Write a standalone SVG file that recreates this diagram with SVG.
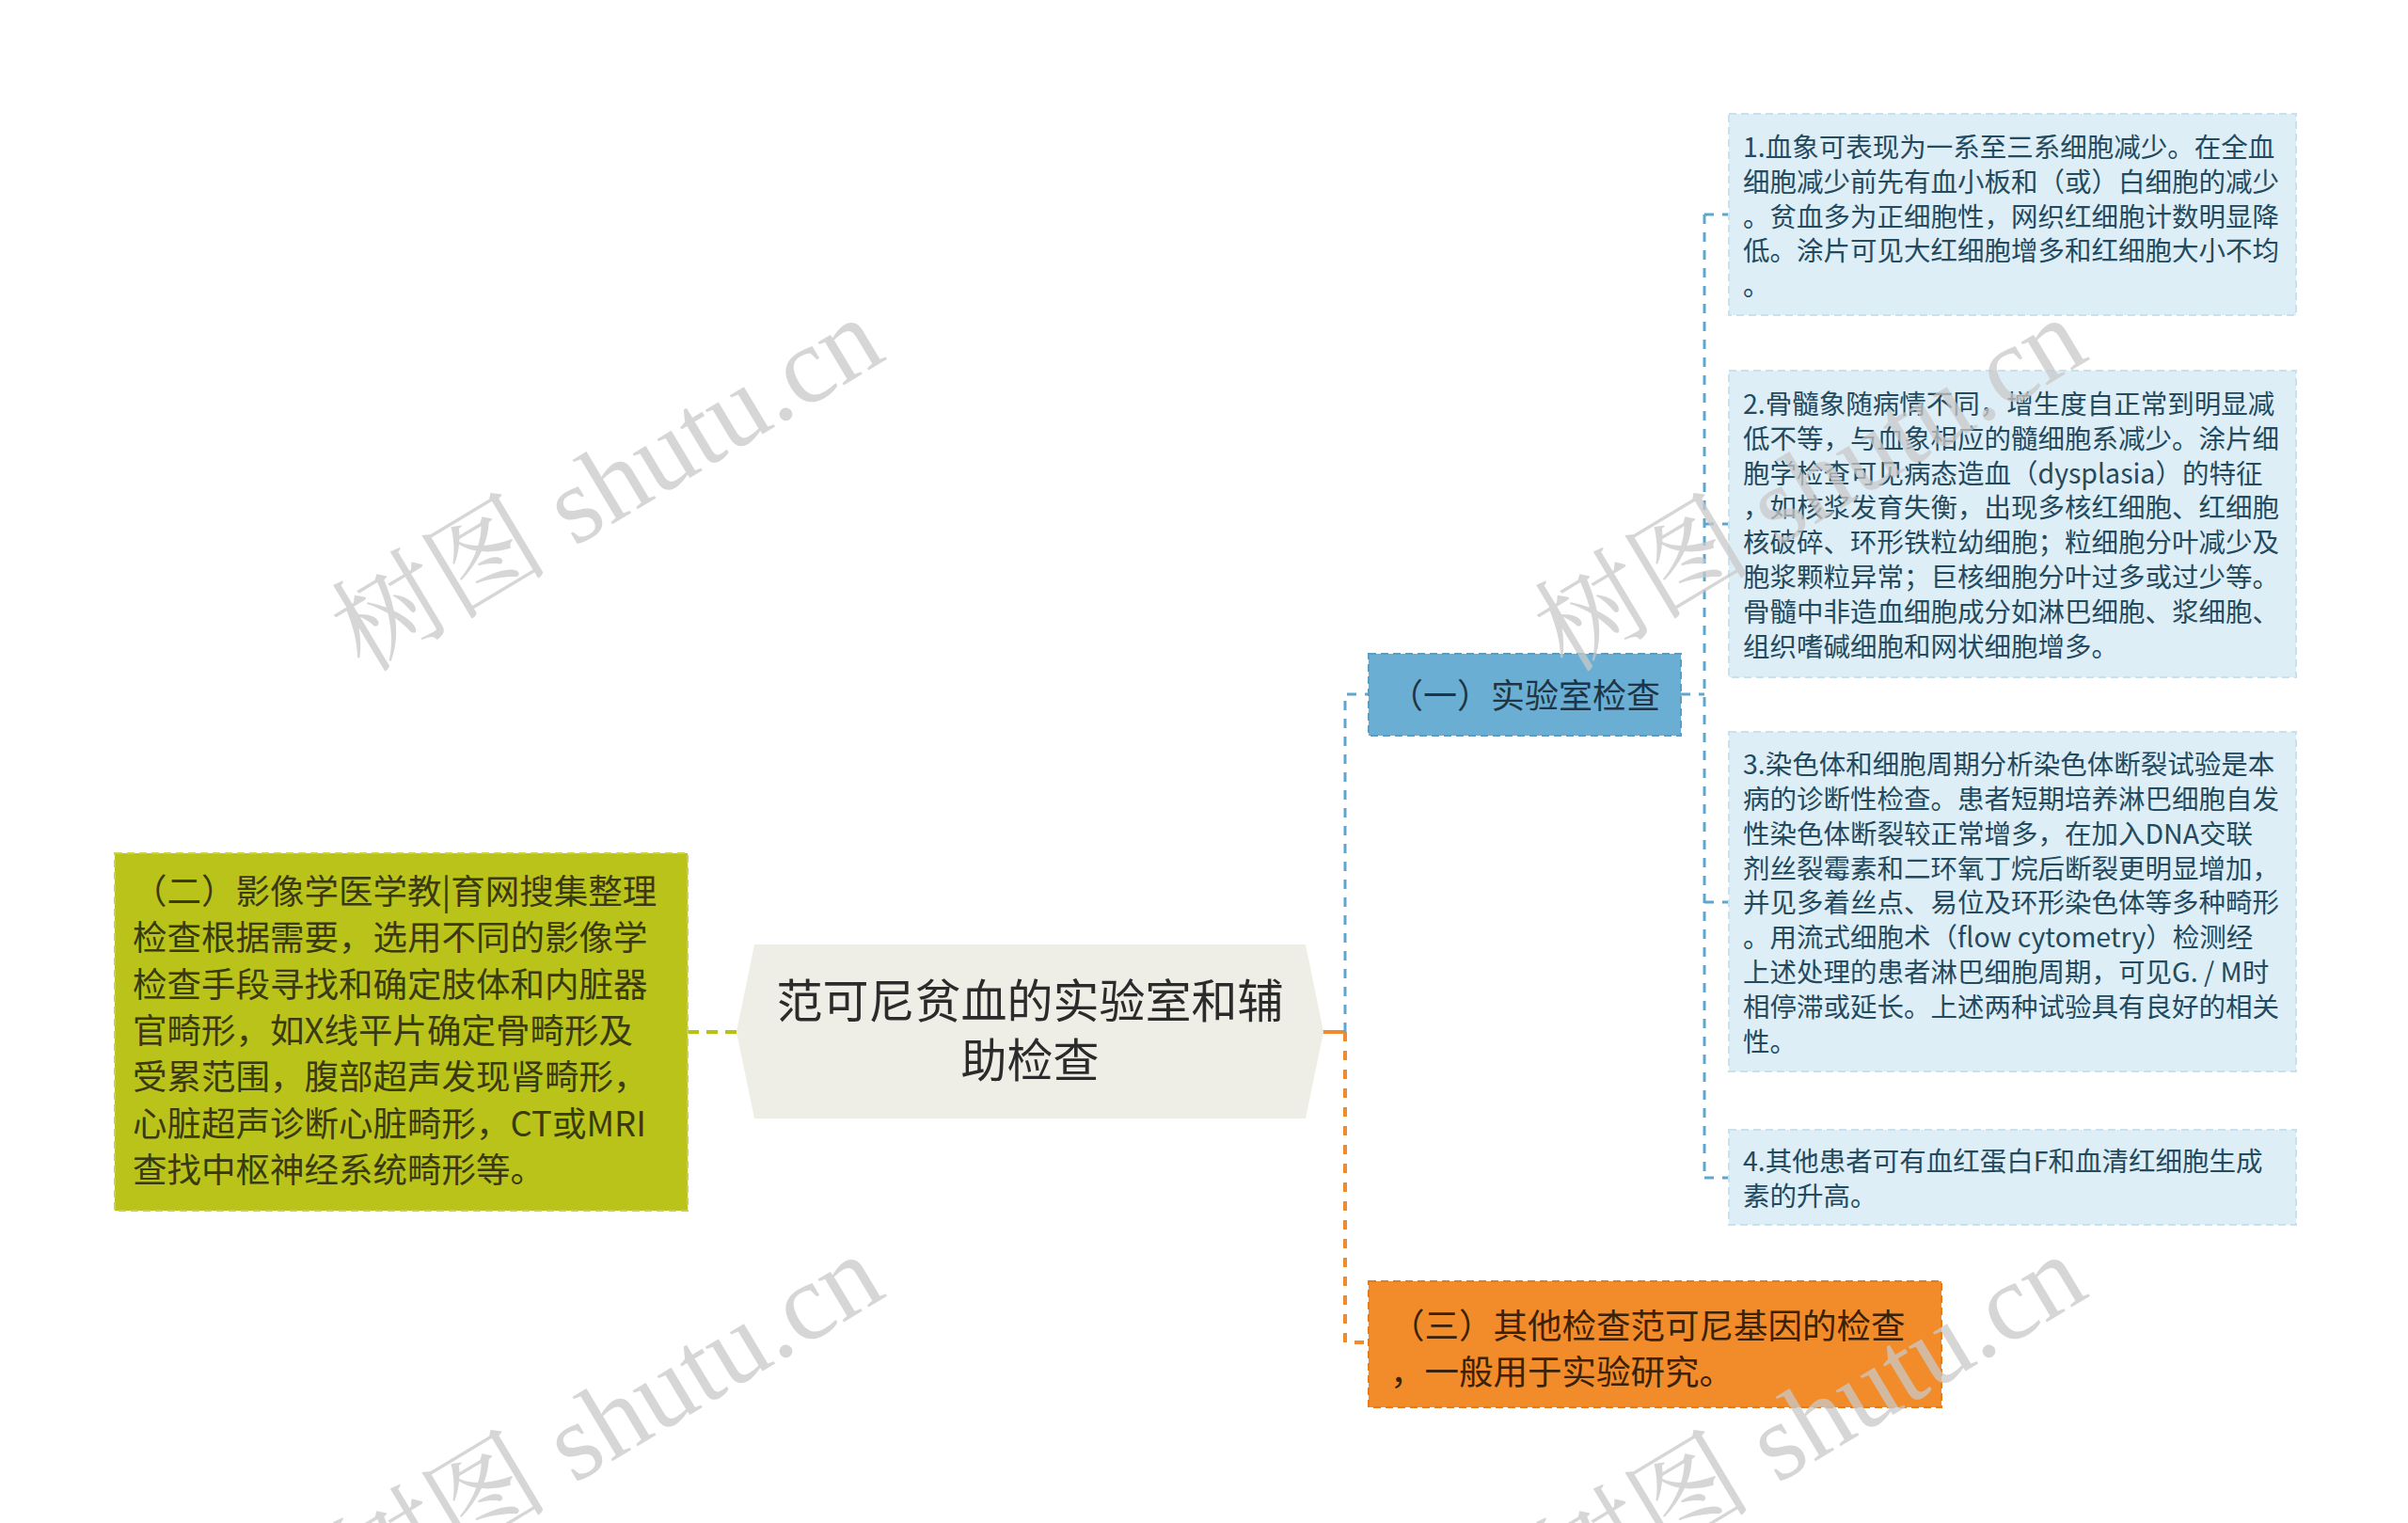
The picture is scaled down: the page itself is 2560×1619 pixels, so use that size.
<svg xmlns="http://www.w3.org/2000/svg" width="2560" height="1619" viewBox="0 0 2560 1619">
<style>
.t{font-family:"Noto Sans CJK SC","Noto Sans",sans-serif}
.item{fill:#deeef7;stroke:#c9e0ee;stroke-width:2;stroke-dasharray:8 5}
.itxt{font-size:28.5px;fill:#234a5e}
.wm{font-family:"Liberation Serif","Noto Serif CJK SC","Noto Sans CJK SC",serif;font-size:116px;fill:#c8c8c8;fill-opacity:0.75}
.cb{fill:none;stroke:#5fa6cf;stroke-width:3;stroke-dasharray:10 9}
</style>
<rect width="2560" height="1619" fill="#ffffff"/>
<g id="connectors">
<line x1="731" y1="1097" x2="784" y2="1097" stroke="#b8c216" stroke-width="4" stroke-dasharray="12 8"/>
<line x1="1404" y1="1097" x2="1431" y2="1097" stroke="#ef8a2f" stroke-width="4"/>
<path class="cb" d="M1430 1097 V738 H1455"/>
<path d="M1430 1097 V1427 H1455" fill="none" stroke="#ef8a2f" stroke-width="4" stroke-dasharray="10 10"/>
<path class="cb" d="M1787 738 H1812"/>
<path class="cb" d="M1812 228 V1252"/>
<path class="cb" d="M1812 228 H1838 M1812 557 H1838 M1812 959 H1838 M1812 1252 H1838"/>
</g>
<g id="center">
<polygon points="802,1004 1388,1004 1407,1097 1388,1189 802,1189 783,1097" fill="#eeeee6"/>
<text class="t" font-size="49" fill="#2b2b2b" text-anchor="middle"><tspan x="1095" y="1082">范可尼贫血的实验室和辅</tspan><tspan x="1095" y="1145">助检查</tspan></text>
</g>
<g id="node-lab">
<rect x="1455" y="695" width="332" height="87" fill="#6aaed4" stroke="#5a9cc2" stroke-width="2" stroke-dasharray="8 5"/>
<text class="t" font-size="36" fill="#1f3545" text-anchor="middle" x="1621" y="753">（一）实验室检查</text>
</g>
<g id="node-imaging">
<rect x="122" y="907" width="609" height="380" fill="#b9c31a" stroke="#c9d24a" stroke-width="2" stroke-dasharray="8 5"/>
<text class="t" font-size="36.5" fill="#3a3a12"><tspan x="141" y="961">（二）影像学医学教|育网搜集整理</tspan><tspan x="141" y="1010">检查根据需要，选用不同的影像学</tspan><tspan x="141" y="1060">检查手段寻找和确定肢体和内脏器</tspan><tspan x="141" y="1109">官畸形，如X线平片确定骨畸形及</tspan><tspan x="141" y="1158">受累范围，腹部超声发现肾畸形，</tspan><tspan x="141" y="1208">心脏超声诊断心脏畸形，CT或MRI</tspan><tspan x="141" y="1257">查找中枢神经系统畸形等。</tspan></text>
</g>
<g id="node-other">
<rect x="1455" y="1362" width="609" height="134" fill="#f28c2b" stroke="#e47c1e" stroke-width="2" stroke-dasharray="8 5"/>
<text class="t" font-size="36.5" fill="#3b2206"><tspan x="1478" y="1423">（三）其他检查范可尼基因的检查</tspan><tspan x="1478" y="1472">，一般用于实验研究。</tspan></text>
</g>
<g id="item1">
<rect class="item" x="1838" y="121" width="603" height="214"/>
<text class="t itxt"><tspan x="1853" y="167">1.血象可表现为一系至三系细胞减少。在全血</tspan><tspan x="1853" y="204">细胞减少前先有血小板和（或）白细胞的减少</tspan><tspan x="1853" y="241">。贫血多为正细胞性，网织红细胞计数明显降</tspan><tspan x="1853" y="277">低。涂片可见大红细胞增多和红细胞大小不均</tspan><tspan x="1853" y="314">。</tspan></text>
</g>
<g id="item2">
<rect class="item" x="1838" y="394" width="603" height="326"/>
<text class="t itxt"><tspan x="1853" y="440">2.骨髓象随病情不同，增生度自正常到明显减</tspan><tspan x="1853" y="477">低不等，与血象相应的髓细胞系减少。涂片细</tspan><tspan x="1853" y="514">胞学检查可见病态造血（dysplasia）的特征</tspan><tspan x="1853" y="550">，如核浆发育失衡，出现多核红细胞、红细胞</tspan><tspan x="1853" y="587">核破碎、环形铁粒幼细胞；粒细胞分叶减少及</tspan><tspan x="1853" y="624">胞浆颗粒异常；巨核细胞分叶过多或过少等。</tspan><tspan x="1853" y="661">骨髓中非造血细胞成分如淋巴细胞、浆细胞、</tspan><tspan x="1853" y="698">组织嗜碱细胞和网状细胞增多。</tspan></text>
</g>
<g id="item3">
<rect class="item" x="1838" y="778" width="603" height="361"/>
<text class="t itxt"><tspan x="1853" y="823">3.染色体和细胞周期分析染色体断裂试验是本</tspan><tspan x="1853" y="860">病的诊断性检查。患者短期培养淋巴细胞自发</tspan><tspan x="1853" y="897">性染色体断裂较正常增多，在加入DNA交联</tspan><tspan x="1853" y="934">剂丝裂霉素和二环氧丁烷后断裂更明显增加，</tspan><tspan x="1853" y="970">并见多着丝点、易位及环形染色体等多种畸形</tspan><tspan x="1853" y="1007">。用流式细胞术（flow cytometry）检测经</tspan><tspan x="1853" y="1044">上述处理的患者淋巴细胞周期，可见G. / M时</tspan><tspan x="1853" y="1081">相停滞或延长。上述两种试验具有良好的相关</tspan><tspan x="1853" y="1118">性。</tspan></text>
</g>
<g id="item4">
<rect class="item" x="1838" y="1201" width="603" height="101"/>
<text class="t itxt"><tspan x="1853" y="1245">4.其他患者可有血红蛋白F和血清红细胞生成</tspan><tspan x="1853" y="1282">素的升高。</tspan></text>
</g>
<g id="watermarks">
<text class="wm" text-anchor="middle" transform="translate(646,516) rotate(-31)" y="38">树图 shutu.cn</text>
<text class="wm" text-anchor="middle" transform="translate(1925,516) rotate(-31)" y="38">树图 shutu.cn</text>
<text class="wm" text-anchor="middle" transform="translate(646,1512) rotate(-31)" y="38">树图 shutu.cn</text>
<text class="wm" text-anchor="middle" transform="translate(1925,1512) rotate(-31)" y="38">树图 shutu.cn</text>
</g>
</svg>
